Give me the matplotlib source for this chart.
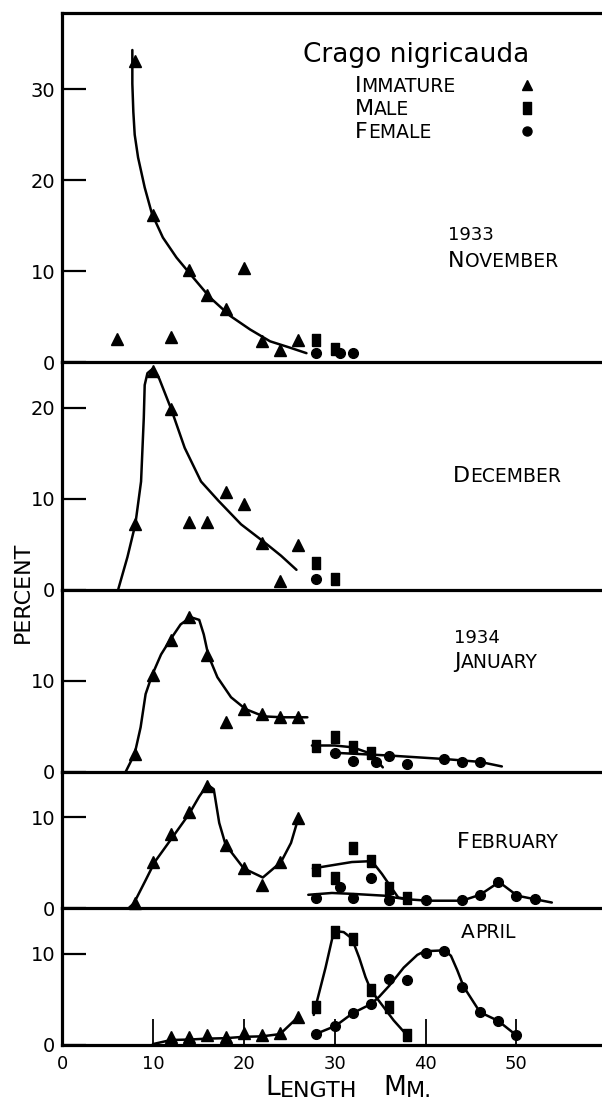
import matplotlib
matplotlib.use('Agg')
import matplotlib.pyplot as plt
from matplotlib.lines import Line2D

W, H = 602, 1099

# ---- data (length mm, percent) ----
# 1933 November
nov_imm_x = [6, 8, 10, 12, 14, 16, 18, 20, 22, 24, 26]
nov_imm_y = [2.6, 33.1, 16.2, 2.75, 10.1, 7.4, 5.8, 10.4, 2.3, 1.4, 2.4]
nov_male_x = [28, 30]
nov_male_y = [2.5, 1.5]
nov_fem_x = [28, 30.6, 32]
nov_fem_y = [1.0, 1.0, 1.0]
nov_curve_x = [7.74, 7.74, 7.85, 8.0, 8.37, 9.1, 9.9, 11.1, 12.6, 14.1, 16.3, 18.5, 20.7, 22.9, 25.1, 26.9]
nov_curve_y = [34.3, 30.6, 27.5, 25.0, 22.5, 19.2, 16.3, 13.7, 11.5, 9.7, 7.1, 5.1, 3.6, 2.3, 1.6, 1.0]

# December
dec_imm_x = [8, 10, 12, 14, 16, 18, 20, 22, 24, 26]
dec_imm_y = [7.2, 24.0, 19.9, 7.4, 7.4, 10.7, 9.4, 5.2, 1.0, 4.95]
dec_male_x = [28, 30]
dec_male_y = [3.0, 1.2]
dec_fem_x = [28]
dec_fem_y = [1.2]
dec_curve_x = [6.2, 7.2, 8.07, 8.7, 9.0, 9.1, 9.4, 10.0, 10.7, 12.0, 13.5, 15.3, 17.2, 19.7, 22.3, 24.1, 25.8]
dec_curve_y = [0.1, 3.6, 7.2, 11.9, 18.9, 22.5, 23.8, 24.3, 23.2, 19.9, 15.6, 11.9, 9.8, 7.2, 5.2, 3.75, 2.2]

# 1934 January
jan_imm_x = [8, 10, 12, 14, 16, 18, 20, 22, 24, 26]
jan_imm_y = [2.0, 10.6, 14.5, 17.0, 12.8, 5.45, 6.9, 6.4, 6.0, 6.0]
jan_male_x = [28, 30, 32, 34]
jan_male_y = [2.9, 3.8, 2.7, 2.1]
jan_fem_x = [30, 32, 34.5, 36, 38, 42, 44, 46]
jan_fem_y = [2.1, 1.2, 1.1, 1.8, 0.9, 1.4, 1.1, 1.1]
jan_curve_x = [7.0, 8.0, 8.65, 9.2, 9.9, 10.9, 11.9, 13.05, 14.15, 15.1, 15.6, 16.1, 17.1, 18.6, 20.2, 22.2, 24.2, 27.0]
jan_curve_y = [0.0, 2.0, 4.9, 8.55, 10.6, 12.9, 14.5, 16.2, 17.0, 16.7, 15.1, 12.8, 10.4, 8.2, 6.9, 6.1, 6.0, 6.0]
jan_male_curve_x = [27.5, 30, 32, 34, 35.3]
jan_male_curve_y = [2.9, 2.9, 2.7, 2.0, 0.5]
jan_fem_curve_x = [30, 36, 42.3, 46, 48.4]
jan_fem_curve_y = [2.1, 1.8, 1.4, 1.1, 0.6]

# February
feb_imm_x = [8, 10, 12, 14, 16, 18, 20, 22, 24, 26]
feb_imm_y = [0.55, 5.1, 8.2, 10.6, 13.4, 7.0, 4.4, 2.6, 5.1, 9.9]
feb_male_x = [28, 30, 32, 34, 36, 38]
feb_male_y = [4.2, 3.3, 6.6, 5.2, 2.2, 1.2]
feb_fem_x = [28, 30.6, 32, 34, 36, 40, 44, 46, 48, 50, 52]
feb_fem_y = [1.2, 2.4, 1.2, 3.3, 0.9, 0.9, 0.9, 1.5, 2.9, 1.4, 1.0]
feb_curve_x = [7.4, 7.9, 9.2, 10.2, 12.0, 14.0, 15.1, 16.0, 16.7, 17.3, 18.0, 20.0, 22.1, 24.1, 25.2, 26.0]
feb_curve_y = [0.1, 0.55, 3.1, 5.1, 7.6, 10.4, 12.3, 13.6, 13.1, 9.4, 7.0, 4.4, 3.4, 5.1, 7.2, 9.9]
feb_male_curve_x = [27.6, 31.9, 34.1, 35.2, 36.3, 37.0, 38.2]
feb_male_curve_y = [4.4, 5.1, 5.2, 3.8, 2.2, 1.2, 1.0]
feb_fem_curve_x = [27.1, 29.7, 32, 35.5, 36.6, 38.1, 40.3, 44, 46, 48.1, 50.1, 52.1, 53.9]
feb_fem_curve_y = [1.5, 1.7, 1.6, 1.4, 1.2, 1.0, 0.85, 0.85, 1.5, 2.9, 1.4, 1.0, 0.65]

# April
apr_imm_x = [12, 14, 16, 18, 20, 22, 24, 26]
apr_imm_y = [0.9, 0.85, 1.1, 0.9, 1.3, 1.1, 1.3, 3.1]
apr_male_x = [28, 30, 32, 34, 36, 38]
apr_male_y = [4.2, 12.4, 11.6, 6.0, 4.2, 1.1]
apr_fem_x = [28, 30, 32, 34, 36, 38, 40, 42, 44, 46, 48, 50]
apr_fem_y = [1.2, 2.1, 3.5, 4.5, 7.2, 7.1, 10.1, 10.3, 6.4, 3.6, 2.65, 1.1]
apr_curve_x = [10, 12, 14, 16, 18, 20, 22, 24, 26]
apr_curve_y = [0.1, 0.55, 0.6, 0.7, 0.75, 0.9, 0.95, 1.2, 3.1]
apr_male_curve_x = [27.7, 27.9, 29.0, 29.8, 30.2, 31.0, 31.9, 32.7, 33.4, 34.0, 35.1, 36.5, 38.2]
apr_male_curve_y = [3.3, 4.2, 8.5, 12.0, 12.5, 12.4, 11.7, 9.6, 7.45, 6.0, 4.55, 2.7, 0.8]
apr_fem_curve_x = [27.9, 30.1, 32.0, 34.0, 34.9, 36.0, 37.6, 39.1, 39.9, 42.1, 42.8, 43.5, 44.2, 46.0, 48.0, 50.2]
apr_fem_curve_y = [1.2, 2.1, 3.5, 4.5, 5.3, 6.5, 8.5, 9.9, 10.3, 10.4, 9.8, 8.2, 6.4, 3.6, 2.65, 0.9]

panel_tops = [38.4, 25, 20, 15, 15]
panel_yticks = [[0, 10, 20, 30], [0, 10, 20], [0, 10], [0, 10], [0, 10]]
x_ticks = [0, 10, 20, 30, 40, 50]

panels = [
    dict(imm=(nov_imm_x, nov_imm_y), male=(nov_male_x, nov_male_y), fem=(nov_fem_x, nov_fem_y),
         curves=[(nov_curve_x, nov_curve_y)]),
    dict(imm=(dec_imm_x, dec_imm_y), male=(dec_male_x, dec_male_y), fem=(dec_fem_x, dec_fem_y),
         curves=[(dec_curve_x, dec_curve_y)]),
    dict(imm=(jan_imm_x, jan_imm_y), male=(jan_male_x, jan_male_y), fem=(jan_fem_x, jan_fem_y),
         curves=[(jan_curve_x, jan_curve_y), (jan_male_curve_x, jan_male_curve_y),
                 (jan_fem_curve_x, jan_fem_curve_y)]),
    dict(imm=(feb_imm_x, feb_imm_y), male=(feb_male_x, feb_male_y), fem=(feb_fem_x, feb_fem_y),
         curves=[(feb_curve_x, feb_curve_y), (feb_male_curve_x, feb_male_curve_y),
                 (feb_fem_curve_x, feb_fem_curve_y)]),
    dict(imm=(apr_imm_x, apr_imm_y), male=(apr_male_x, apr_male_y), fem=(apr_fem_x, apr_fem_y),
         curves=[(apr_curve_x, apr_curve_y), (apr_male_curve_x, apr_male_curve_y),
                 (apr_fem_curve_x, apr_fem_curve_y)]),
]

# tall block marker used for males
bar = [(-0.32, -0.5), (0.32, -0.5), (0.32, 0.5), (-0.32, 0.5), (-0.32, -0.5)]

fig = plt.figure(figsize=(W / 100, H / 100), dpi=100)
gs = fig.add_gridspec(5, 1, height_ratios=panel_tops, hspace=0,
                      left=62 / W, right=600 / W, top=1 - 12.7 / H, bottom=1 - 1045 / H)
axes = []
for i, p in enumerate(panels):
    ax = fig.add_subplot(gs[i])
    ax.set_facecolor('none')
    axes.append(ax)
    for cx, cy in p['curves']:
        ax.plot(cx, cy, color='k', lw=1.8, clip_on=False, solid_capstyle='round')
    ax.plot(*p['imm'], ls='none', marker='^', ms=8, color='k', clip_on=False)
    ax.plot(*p['male'], ls='none', marker=bar, ms=9, color='k', clip_on=False)
    ax.plot(*p['fem'], ls='none', marker='o', ms=7, color='k', clip_on=False)
    ax.set_xlim(0, 59.2)
    ax.set_ylim(0, panel_tops[i])
    ax.set_yticks(panel_yticks[i])
    ax.tick_params(axis='y', direction='in', length=17, width=1.6, pad=5, labelsize=14)
    for s in ['left', 'bottom', 'top']:
        ax.spines[s].set_linewidth(2.3)
    ax.spines['right'].set_visible(False)
    if i > 0:
        ax.spines['top'].set_visible(False)
    if i < 4:
        ax.tick_params(axis='x', bottom=False, labelbottom=False)
    else:
        ax.set_xticks(x_ticks)
        ax.tick_params(axis='x', direction='in', length=19, width=1.3, pad=7, labelsize=13)


def px(x, y):
    return x / W, 1 - y / H


def smallcaps(x, y, text, big, small):
    t = None
    for i, word in enumerate(text.split(' ')):
        segs = [(word[0], big)]
        if len(word) > 1:
            segs.append((word[1:], small))
        for j, (s, size) in enumerate(segs):
            if t is None:
                t = fig.text(*px(x, y), s, fontsize=size, va='baseline', ha='left')
            else:
                gap = small * 0.4 if (j == 0 and i > 0) else 0
                t = axes[-1].annotate(s, xy=(1, 0), xycoords=t, xytext=(gap, 0),
                                      textcoords='offset points', fontsize=size,
                                      va='bottom', ha='left')


fig.text(*px(303, 62), 'Crago nigricauda', fontsize=19, va='baseline', ha='left')
smallcaps(355, 92, 'IMMATURE', 16, 13.5)
smallcaps(355, 115, 'MALE', 16, 13.5)
smallcaps(355, 138, 'FEMALE', 16, 13.5)
fig.add_artist(Line2D([527 / W], [1 - 85 / H], marker='^', ms=7, color='k', transform=fig.transFigure))
fig.add_artist(Line2D([527 / W], [1 - 108 / H], marker=bar, ms=8, color='k', transform=fig.transFigure))
fig.add_artist(Line2D([527 / W], [1 - 131 / H], marker='o', ms=6.5, color='k', transform=fig.transFigure))

fig.text(*px(448, 240), '1933', fontsize=13, va='baseline', ha='left')
smallcaps(448, 267, 'NOVEMBER', 16, 13.5)
smallcaps(453, 482, 'DECEMBER', 16, 13.5)
fig.text(*px(454, 643), '1934', fontsize=13, va='baseline', ha='left')
smallcaps(454, 668, 'JANUARY', 16, 13.5)
smallcaps(457, 848, 'FEBRUARY', 16, 13.5)
smallcaps(461, 938, 'APRIL', 14.5, 13.5)
smallcaps(265, 1095, 'LENGTH', 19, 16)
smallcaps(383, 1095, 'MM.', 19, 16)
fig.text(*px(23, 592), 'PERCENT', rotation=90, ha='center', va='center', fontsize=16)

fig.savefig('out.png', dpi=100)
